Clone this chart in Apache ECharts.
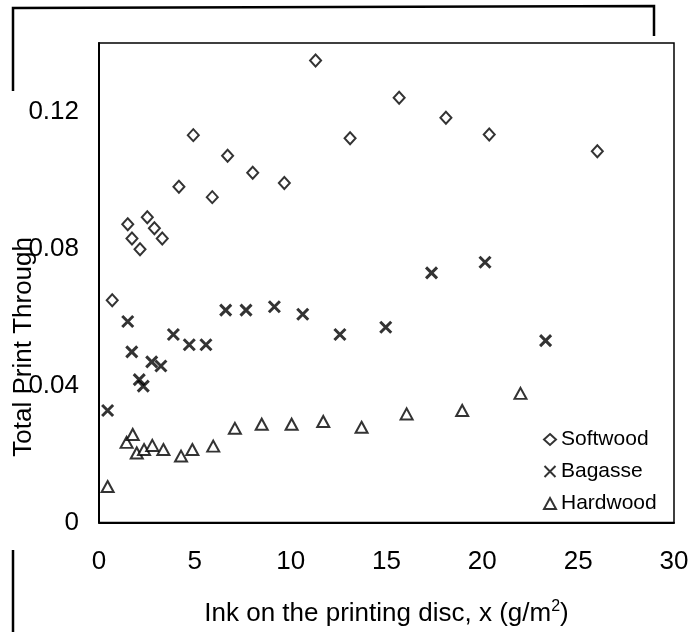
<!DOCTYPE html>
<html>
<head>
<meta charset="utf-8">
<title>Total Print Through</title>
<script src="https://cdn.jsdelivr.net/npm/echarts@6/dist/echarts.min.js"></script>
<style>
	html, body { margin: 0; padding: 0; background: #fff; }
	#chart { width: 695px; height: 632px; }
</style>
</head>
<body>
<div id="chart"></div>
<script>
	// values
	const softwoodX = [0.69, 1.50, 1.72, 2.14, 2.52, 2.89, 3.30, 4.17, 4.92, 5.91, 6.71, 8.02, 9.67, 11.30, 13.10, 15.66, 18.10, 20.36, 26.00];
	const softwoodY = [0.0649, 0.0871, 0.0829, 0.0798, 0.0891, 0.0859, 0.0829, 0.0980, 0.1131, 0.0950, 0.1071, 0.1021, 0.0991, 0.1349, 0.1122, 0.1240, 0.1182, 0.1133, 0.1084];

	const bagasseX = [0.45, 1.50, 1.71, 2.10, 2.31, 2.75, 3.23, 3.88, 4.71, 5.58, 6.61, 7.67, 9.15, 10.63, 12.57, 14.96, 17.35, 20.14, 23.30];
	const bagasseY = [0.0327, 0.0587, 0.0498, 0.0417, 0.0398, 0.0469, 0.0457, 0.0549, 0.0519, 0.0519, 0.0620, 0.0620, 0.0630, 0.0608, 0.0549, 0.0570, 0.0729, 0.0760, 0.0531];

	const hardwoodX = [0.45, 1.44, 1.76, 1.97, 2.35, 2.78, 3.36, 4.28, 4.87, 5.96, 7.09, 8.49, 10.05, 11.70, 13.70, 16.05, 18.95, 21.99];
	const hardwoodY = [0.0105, 0.0234, 0.0257, 0.0203, 0.0213, 0.0225, 0.0213, 0.0194, 0.0213, 0.0223, 0.0275, 0.0287, 0.0287, 0.0295, 0.0278, 0.0317, 0.0327, 0.0377];

	const seriesNames = ['Softwood', 'Bagasse', 'Hardwood'];

	function pairs(xs, ys) {
		return xs.map((x, i) => [x, ys[i]]);
	}

	const font = '"Liberation Sans", Arial, sans-serif';
	const crossPath = 'path://M0,0L10,10M10,0L0,10';

	const chart = echarts.init(document.getElementById('chart'));
	chart.setOption({
		animation: false,
		backgroundColor: '#fff',
		textStyle: { fontFamily: font, color: '#000' },
		grid: {
			left: 99,
			top: 43,
			right: 21,
			bottom: 105,
			show: true,
			borderColor: '#000',
			borderWidth: 1.5
		},
		legend: {
			orient: 'vertical',
			left: 538,
			top: 424,
			itemGap: 11,
			itemWidth: 12,
			itemHeight: 11,
			textStyle: { fontSize: 21, color: '#000', fontFamily: font },
			data: [
				{ name: seriesNames[0], icon: 'emptyDiamond' },
				{ name: seriesNames[1], icon: crossPath },
				{ name: seriesNames[2], icon: 'emptyTriangle' }
			]
		},
		xAxis: {
			type: 'value',
			min: 0,
			max: 30,
			interval: 5,
			splitLine: { show: false },
			axisTick: { show: false },
			axisLine: { lineStyle: { color: '#000', width: 2 } },
			axisLabel: { fontSize: 26, color: '#000', margin: 26 },
			name: 'Ink on the printing disc, x (g/m{sup|2})',
			nameLocation: 'middle',
			nameGap: 76,
			nameTextStyle: {
				fontSize: 26,
				color: '#000',
				rich: {
					sup: { fontSize: 16, verticalAlign: 'top', padding: [0, 0, 15, 0], color: '#000' }
				}
			}
		},
		yAxis: {
			type: 'value',
			min: 0,
			max: 0.14,
			interval: 0.04,
			splitLine: { show: false },
			axisTick: { show: false },
			axisLine: { lineStyle: { color: '#000', width: 2 } },
			axisLabel: { fontSize: 26, color: '#000', margin: 20, showMaxLabel: false }
		},
		graphic: [
			{
				type: 'text',
				left: 11,
				top: 237,
				rotation: Math.PI / 2,
				style: { text: 'Total Print Through', fontSize: 26, fontFamily: font, fill: '#000' }
			},
			{
				type: 'polyline',
				shape: { points: [[13, 91], [13, 8], [654, 6], [654, 36]] },
				style: { stroke: '#000', lineWidth: 2.5, fill: null }
			},
			{
				type: 'line',
				shape: { x1: 13, y1: 550, x2: 13, y2: 632 },
				style: { stroke: '#000', lineWidth: 2.5 }
			}
		],
		series: [
			{
				name: seriesNames[0],
				type: 'scatter',
				symbol: 'emptyDiamond',
				symbolSize: [11, 12],
				itemStyle: { color: '#000', borderColor: '#000', borderWidth: 2.8 },
				data: pairs(softwoodX, softwoodY)
			},
			{
				name: seriesNames[1],
				type: 'scatter',
				symbol: crossPath,
				symbolSize: 11,
				itemStyle: { color: '#000', borderColor: '#000', borderWidth: 3 },
				data: pairs(bagasseX, bagasseY)
			},
			{
				name: seriesNames[2],
				type: 'scatter',
				symbol: 'emptyTriangle',
				symbolSize: [12, 11],
				itemStyle: { color: '#000', borderColor: '#000', borderWidth: 2.8 },
				data: pairs(hardwoodX, hardwoodY)
			}
		]
	});
</script>
</body>
</html>
